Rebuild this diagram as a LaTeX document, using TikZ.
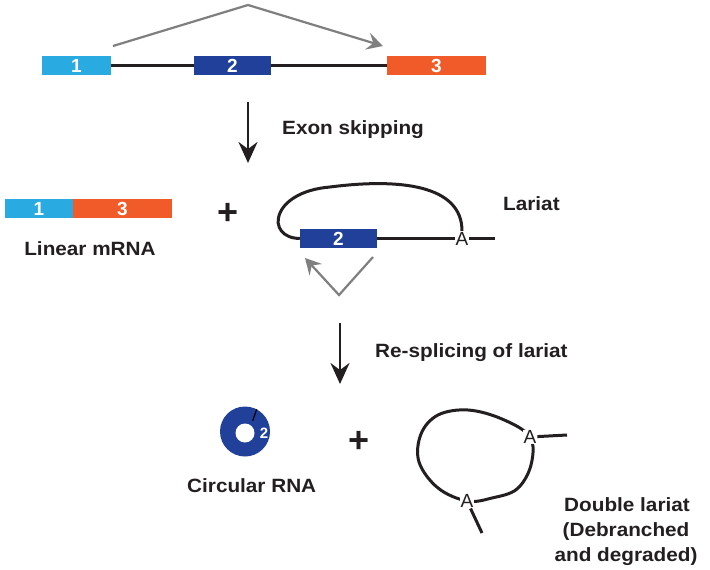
\documentclass[tikz,border=0pt]{standalone}
\usepackage{fontspec}
\setmainfont{Liberation Sans}
\usetikzlibrary{arrows.meta}
\definecolor{lblue}{HTML}{29ABE2}
\definecolor{dblue}{HTML}{21409A}
\definecolor{orng}{HTML}{F15A29}
\definecolor{txt}{HTML}{231F20}
\definecolor{spl}{HTML}{7F7F7F}
\newcommand{\lbl}[1]{\scalebox{1.08}[1]{\fontsize{19.2}{22}\selectfont\bfseries #1}}
\begin{document}
\begin{tikzpicture}[x=1pt,y=-1pt,
  exon/.style={draw=none, minimum height=19pt, inner sep=0pt, text=white,
    font=\fontsize{19}{20}\selectfont\bfseries},
  intron/.style={line width=3pt, txt},
  splice/.style={line width=2.2pt, spl, -{Stealth[length=16pt,width=17pt,inset=6pt]}},
  process/.style={line width=2.8pt, txt, -{Stealth[length=21pt,width=19pt,inset=7pt]}},
  label/.style={text=txt, inner sep=0pt, anchor=base west},
  clabel/.style={text=txt, inner sep=0pt, anchor=base},
  plus/.style={text=txt, inner sep=0pt, font=\fontsize{36}{36}\selectfont\bfseries},
  branch/.style={text=txt, inner sep=0.8pt, fill=white, font=\fontsize{19}{20}\selectfont},
  loop/.style={line width=3pt, txt}
]
\useasboundingbox (0,0) rectangle (710,570);
\fill[white] (0,0) rectangle (710,570);

% ---- top: pre-mRNA ----
\node[exon, fill=lblue, minimum width=69pt] (e1) at (76.5,65.5) {1};
\node[exon, fill=dblue, minimum width=77pt] (e2) at (232.5,65.5) {2};
\node[exon, fill=orng, minimum width=99pt] (e3) at (436.5,65.5) {3};
\draw[intron] (e1.east) -- (e2.west);
\draw[intron] (e2.east) -- (e3.west);
\coordinate (s1) at (113,46);
\coordinate (s2) at (248,5);
\coordinate (s3) at (383,46);
\draw[splice] (s1) -- (s2) -- (s3);

% ---- arrow 1 ----
\coordinate (d1a) at (248,102);
\coordinate (d1b) at (248,163);
\draw[process] (d1a) -- (d1b);
\node[label] (lskip) at (282,134) {\lbl{Exon skipping}};

% ---- linear mRNA ----
\node[exon, fill=lblue, minimum width=68pt] (m1) at (39,208.5) {1};
\node[exon, fill=orng, minimum width=99pt] (m3) at (122.5,208.5) {3};
\node[clabel] (llin) at (90,255) {\lbl{Linear mRNA}};
\node[plus] (p1) at (228,214) {+};

% ---- lariat ----
\node[exon, fill=dblue, minimum width=77pt] (l2) at (338.5,238.5) {2};
\node[branch] (la) at (462,238.5) {A};
\coordinate (ltail) at (495,238.5);
\draw[loop] (l2.east) -- (la);
\draw[loop] (la) -- (ltail);
\draw[loop] (l2.west) .. controls (265,238) and (270,192) .. (330,187)
  .. controls (400,178) and (462,185) .. (la.north);
\node[label] (llar) at (503,210) {\lbl{Lariat}};
\coordinate (v1) at (373,257);
\coordinate (v2) at (339,295);
\coordinate (v3) at (305,258);
\draw[splice] (v1) -- (v2) -- (v3);

% ---- arrow 2 ----
\coordinate (d2a) at (340,323);
\coordinate (d2b) at (340,384);
\draw[process] (d2a) -- (d2b);
\node[label] (lres) at (375,357) {\lbl{Re-splicing of lariat}};

% ---- circular RNA ----
\node[circle, fill=dblue, minimum size=50pt, inner sep=0pt] (circ) at (245,431.5) {};
\fill[white] (245,433) circle (9.5);
\draw[line width=1.2pt, black] (252.7,420.7) -- (256.7,409.3);
\node[text=white, inner sep=0pt, font=\fontsize{15}{16}\selectfont\bfseries] (c2) at (264,433) {2};
\node[label] (lcirc) at (187,492) {\lbl{Circular RNA}};
\node[plus] (p2) at (359,442) {+};

% ---- double lariat ----
\draw[loop] plot[smooth cycle, tension=0.6] coordinates {
  (467,501) (438,488) (419,462) (421,434) (438,415) (468,410) (502,419)
  (530,437) (531,465) (517,489) (492,498)};
\node[branch] (da1) at (530,437) {A};
\node[branch] (da2) at (467,501) {A};
\coordinate (dt1) at (567,435);
\coordinate (dt2) at (482,533);
\draw[loop] (da1) -- (dt1);
\draw[loop] (da2) -- (dt2);
\node[clabel] (ld1) at (627,511.5) {\lbl{Double lariat}};
\node[clabel] (ld2) at (626,536.5) {\lbl{(Debranched}};
\node[clabel] (ld3) at (626,561.5) {\lbl{and degraded)}};
\end{tikzpicture}
\end{document}
